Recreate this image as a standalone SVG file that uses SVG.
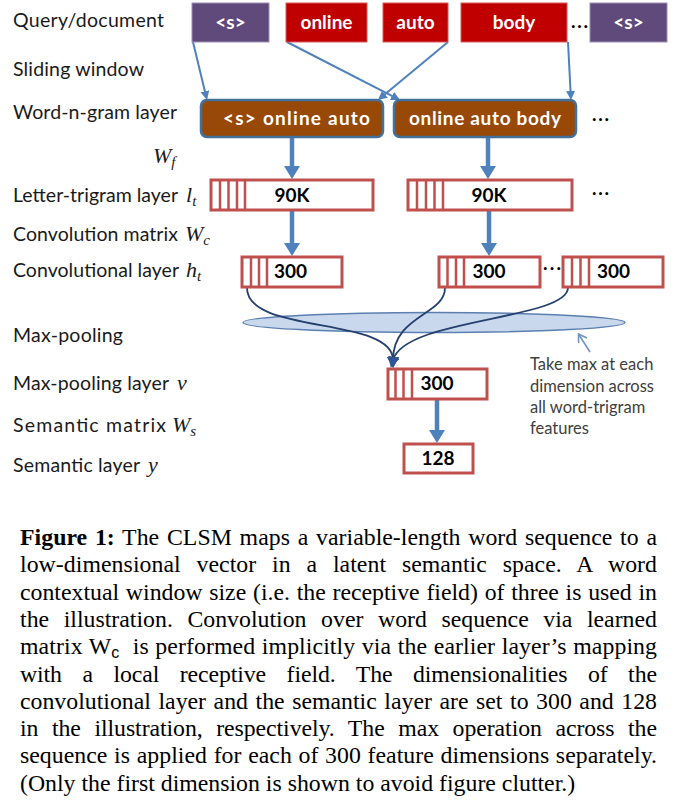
<svg xmlns="http://www.w3.org/2000/svg" width="675" height="808" viewBox="0 0 675 808">
<defs>
<style>
.lbl{font-family:Lato,"Liberation Sans",sans-serif;font-size:19.5px;fill:#1a1a1a}
.math{font-family:"Liberation Serif",serif;font-style:italic;font-size:22px;fill:#1a1a1a}
.sub{font-size:15px}
.tok{font-family:Lato,"Liberation Sans",sans-serif;font-weight:bold;font-size:19px;fill:#fff;text-anchor:middle}
.red{fill:#C00000;stroke:#D65A5A;stroke-width:1}
.pur{fill:#604A7B;stroke:#9C90B8;stroke-width:1}
.ngram{fill:#984807;stroke:#41719C;stroke-width:2.5}
.vec{fill:#fff;stroke:#C0504D;stroke-width:3}
.stripe{stroke:#C0504D;stroke-width:2.5}
.num{font-family:Lato,"Liberation Sans",sans-serif;font-weight:bold;font-size:19px;fill:#000;text-anchor:middle}
.dots{font-family:Lato,"Liberation Sans",sans-serif;font-weight:bold;font-size:19px;fill:#000}
.thin{stroke:#4F81BD;stroke-width:2;fill:none;marker-end:url(#ahThin)}
.thick{stroke:#4F81BD;stroke-width:4.5;fill:none;marker-end:url(#ahThick)}
.curve{stroke:#24406E;stroke-width:1.8;fill:none;marker-end:url(#ahCurve)}
.note{font-family:Lato,"Liberation Sans",sans-serif;font-size:16.5px;fill:#404040}
.cap{font-family:"Liberation Serif",serif;font-size:23.8px;fill:#000}
</style>
<marker id="ahThin" markerUnits="userSpaceOnUse" markerWidth="10" markerHeight="10" refX="7" refY="4.5" orient="auto">
<path d="M0,0 L9,4.5 L0,9 z" fill="#4F81BD"/>
</marker>
<marker id="ahThick" markerUnits="userSpaceOnUse" markerWidth="14" markerHeight="16" refX="9" refY="8" orient="auto">
<path d="M0,0 L13,8 L0,16 z" fill="#4F81BD"/>
</marker>
<marker id="ahCurve" markerUnits="userSpaceOnUse" markerWidth="12" markerHeight="12" refX="3" refY="6" orient="auto">
<path d="M0,0 L11,6 L0,12 z" fill="#2F5597"/>
</marker>
<marker id="ahOpen" markerUnits="userSpaceOnUse" markerWidth="12" markerHeight="12" refX="9" refY="5" orient="auto">
<path d="M1,0 L9,5 L1,10" fill="none" stroke="#6F94C6" stroke-width="1.6"/>
</marker>
</defs>
<rect width="675" height="808" fill="#fff"/>

<g id="labels">
<text class="lbl" x="13" y="27" textLength="151" lengthAdjust="spacing">Query/document</text>
<text class="lbl" x="13" y="76" textLength="131" lengthAdjust="spacing">Sliding window</text>
<text class="lbl" x="13" y="119" textLength="164" lengthAdjust="spacing">Word-n-gram layer</text>
<text class="math" x="153" y="163">W<tspan class="sub" dy="4">f</tspan></text>
<text class="lbl" x="13" y="202" textLength="165" lengthAdjust="spacing">Letter-trigram layer</text>
<text class="math" x="186" y="202">l<tspan class="sub" dy="4">t</tspan></text>
<text class="lbl" x="13" y="241" textLength="165" lengthAdjust="spacing">Convolution matrix</text>
<text class="math" x="185" y="241">W<tspan class="sub" dy="4">c</tspan></text>
<text class="lbl" x="13" y="277" textLength="166" lengthAdjust="spacing">Convolutional layer</text>
<text class="math" x="186" y="277">h<tspan class="sub" dy="4">t</tspan></text>
<text class="lbl" x="13" y="342" textLength="110" lengthAdjust="spacing">Max-pooling</text>
<text class="lbl" x="13" y="390" textLength="156" lengthAdjust="spacing">Max-pooling layer</text>
<text class="math" x="177" y="390">v</text>
<text class="lbl" x="13" y="432" textLength="153" lengthAdjust="spacing">Semantic matrix</text>
<text class="math" x="172" y="432">W<tspan class="sub" dy="4">s</tspan></text>
<text class="lbl" x="13" y="472" textLength="127" lengthAdjust="spacing">Semantic layer</text>
<text class="math" x="148" y="472">y</text>
</g>

<g id="connectors">
<line class="thin" x1="193" y1="42" x2="206.5" y2="98.1"/>
<line class="thin" x1="287" y1="42" x2="398.2" y2="99.1"/>
<line class="thin" x1="448" y1="42" x2="379.5" y2="98.7"/>
<line class="thin" x1="568" y1="42" x2="570.9" y2="98"/>
<line class="thick" x1="292" y1="138" x2="292" y2="175"/>
<line class="thick" x1="488" y1="138" x2="488" y2="175"/>
<line class="thick" x1="292" y1="211" x2="292" y2="252"/>
<line class="thick" x1="489" y1="211" x2="489" y2="252"/>
<line class="thick" x1="437" y1="400" x2="437" y2="439"/>
<ellipse cx="434" cy="322.5" rx="191" ry="10" fill="#C9D8EC" stroke="#5B7FB1" stroke-width="1.4"/>
<path class="curve" d="M247,288 C247,335 393,316 393,360"/>
<path class="curve" d="M445,288 C445,315 393,315 393,360"/>
<path class="curve" d="M568,288 C566,320 405,318 393,360"/>
<line x1="590" y1="352" x2="578.5" y2="334" stroke="#6F94C6" stroke-width="1.6" marker-end="url(#ahOpen)"/>
</g>

<g id="tok-s1"><rect class="pur" x="192" y="3" width="77" height="39"/><text class="tok" x="230.5" y="29">&lt;s&gt;</text></g>
<g id="tok-online"><rect class="red" x="286" y="3" width="81" height="39"/><text class="tok" x="326.5" y="29">online</text></g>
<g id="tok-auto"><rect class="red" x="383" y="3" width="65" height="39"/><text class="tok" x="415.5" y="29">auto</text></g>
<g id="tok-body"><rect class="red" x="461" y="3" width="106" height="39"/><text class="tok" x="514" y="29">body</text></g>
<g id="tok-dots"><text class="dots" x="571" y="28" textLength="17">...</text></g>
<g id="tok-s2"><rect class="pur" x="590" y="3" width="77" height="39"/><text class="tok" x="628.5" y="29">&lt;s&gt;</text></g>

<g id="ngram1"><rect class="ngram" x="201" y="100" width="182" height="37" rx="6"/><text class="tok" x="296.5" y="125" textLength="147" lengthAdjust="spacing">&lt;s&gt; online auto</text></g>
<g id="ngram2"><rect class="ngram" x="394" y="100" width="182" height="37" rx="6"/><text class="tok" x="485" y="125" textLength="152" lengthAdjust="spacing">online auto body</text></g>
<g id="ngram-dots"><text class="dots" x="592" y="121" textLength="17">...</text></g>

<g id="trigram1">
<rect class="vec" x="211" y="180" width="162" height="30"/>
<path class="stripe" d="M220,180V210M228.5,180V210M237,180V210M245,180V210"/>
<text class="num" x="292" y="202">90K</text>
</g>
<g id="trigram2">
<rect class="vec" x="408" y="180" width="164" height="30"/>
<path class="stripe" d="M417,180V210M426,180V210M434.5,180V210M443,180V210"/>
<text class="num" x="489" y="202">90K</text>
</g>
<g id="trigram-dots"><text class="dots" x="592" y="195" textLength="17">...</text></g>

<g id="conv1">
<rect class="vec" x="242" y="257" width="100" height="30"/>
<path class="stripe" d="M251,257V287M259,257V287M267,257V287"/>
<text class="num" x="290.5" y="278">300</text>
</g>
<g id="conv2">
<rect class="vec" x="439" y="257" width="101" height="30"/>
<path class="stripe" d="M447.5,257V287M456,257V287M464,257V287"/>
<text class="num" x="489" y="278">300</text>
</g>
<g id="conv-dots"><text class="dots" x="543" y="270" textLength="18">...</text></g>
<g id="conv3">
<rect class="vec" x="563" y="257" width="100" height="30"/>
<path class="stripe" d="M572,257V287M580.5,257V287M589,257V287"/>
<text class="num" x="613.5" y="278">300</text>
</g>

<g id="maxpool">
<rect class="vec" x="388" y="369" width="99" height="30"/>
<path class="stripe" d="M395.5,369V399M403.5,369V399M412,369V399"/>
<text class="num" x="437" y="390">300</text>
</g>
<g id="semantic">
<rect class="vec" x="404" y="444" width="69" height="29"/>
<text class="num" x="438" y="465">128</text>
</g>

<g id="note">
<text class="note" x="530" y="370">Take max at each</text>
<text class="note" x="530" y="392">dimension across</text>
<text class="note" x="530" y="413">all word-trigram</text>
<text class="note" x="530" y="434">features</text>
</g>

<g id="caption">
<text class="cap" x="20" y="545" word-spacing="1.8" textLength="637" lengthAdjust="spacing"><tspan font-weight="bold">Figure 1:</tspan> The CLSM maps a variable-length word sequence to a</text>
<text class="cap" x="20" y="572.3" word-spacing="9.8" textLength="637" lengthAdjust="spacing">low-dimensional vector in a latent semantic space. A word</text>
<text class="cap" x="20" y="599.6" word-spacing="0.8" textLength="637" lengthAdjust="spacing">contextual window size (i.e. the receptive field) of three is used in</text>
<text class="cap" x="20" y="626.9" word-spacing="8.6" textLength="637" lengthAdjust="spacing">the illustration. Convolution over word sequence via learned</text>
<text class="cap" x="20" y="654.2" word-spacing="0.6" textLength="637" lengthAdjust="spacing">matrix W<tspan font-family="Liberation Sans, sans-serif" font-size="16" dy="4">c</tspan><tspan dy="-4">&#160; is performed implicitly via the earlier layer’s mapping</tspan></text>
<text class="cap" x="20" y="681.5" word-spacing="14.7" textLength="637" lengthAdjust="spacing">with a local receptive field. The dimensionalities of the</text>
<text class="cap" x="20" y="708.8" word-spacing="1.6" textLength="637" lengthAdjust="spacing">convolutional layer and the semantic layer are set to 300 and 128</text>
<text class="cap" x="20" y="736.1" word-spacing="7.7" textLength="637" lengthAdjust="spacing">in the illustration, respectively. The max operation across the</text>
<text class="cap" x="20" y="763.4" word-spacing="0.7" textLength="637" lengthAdjust="spacing">sequence is applied for each of 300 feature dimensions separately.</text>
<text class="cap" x="20" y="790.7">(Only the first dimension is shown to avoid figure clutter.)</text>
</g>
</svg>
